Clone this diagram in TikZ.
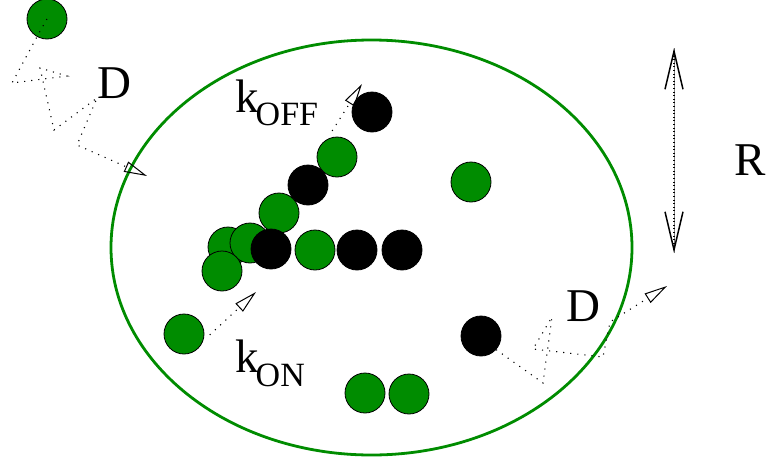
\documentclass[tikz,border=0pt]{standalone}
\usepackage{fontspec}
\setmainfont{Liberation Serif}
\usepackage{tikz}
\usetikzlibrary{arrows.meta}
\definecolor{molgreen}{RGB}{0,140,0}
\newcommand{\bigfont}{\fontsize{47}{47}\selectfont}
\newcommand{\subfont}{\fontsize{34}{34}\selectfont}
\tikzset{
    mol/.style={draw=black, line width=0.8pt, circle, minimum size=40pt, inner sep=0pt},
    gmol/.style={mol, fill=molgreen},
    bmol/.style={mol, fill=black},
    cell/.style={draw=molgreen, line width=2.8pt},
    walk/.style={line width=1.1pt, dash pattern=on 1.1pt off 6pt,
        -{Triangle[open, length=23pt, width=11pt, line width=1pt]}},
    ruler/.style={line width=1.3pt, dash pattern=on 1pt off 2.6pt},
    rhead/.style={{Straight Barb[length=38pt, width=18pt, line width=1.5pt]}-{Straight Barb[length=38pt, width=18pt, line width=1.5pt]}},
    lbl/.style={font=\bigfont, inner sep=0pt}
}
\begin{document}
\begin{tikzpicture}[x=1pt, y=-1pt]
                \useasboundingbox (0,0) rectangle (768,466);

                % the cell
                \draw[cell] (371.5,247.5) ellipse [x radius=260.5, y radius=207.5];

                % molecules
                \node[gmol] (g0) at (47,19) {};
                \node[bmol] (b1) at (372,112) {};
                \node[gmol] (g1) at (337,157) {};
                \node[bmol] (b2) at (308,185) {};
                \node[gmol] (g2) at (279,213) {};
                \node[gmol] (g3) at (228,247) {};
                \node[gmol] (g4) at (250,243) {};
                \node[gmol] (g5) at (222,271) {};
                \node[bmol] (b3) at (271,249) {};
                \node[gmol] (g6) at (315,250) {};
                \node[bmol] (b4) at (357,250) {};
                \node[bmol] (b5) at (402,250) {};
                \node[gmol] (g7) at (471,182) {};
                \node[gmol] (gon) at (184,334) {};
                \node[bmol] (bw) at (481,336) {};
                \node[gmol] (g8) at (365,393) {};
                \node[gmol] (g9) at (409,394) {};

                % diffusion in
                \coordinate (in-tip) at (147,176);
                \draw[walk] (g0.center) -- (39,33) -- (12,83) -- (67,76) -- (40,68)
                    -- (54,130) -- (97,98) -- (77,145) -- (in-tip);

                % diffusion out
                \coordinate (out-tip) at (667,286);
                \draw[walk] (bw.-42) -- (543,383) -- (552,317) -- (533,349)
                    -- (603,357) -- (610,322) -- (out-tip);

                % binding / unbinding
                \coordinate (on-tip) at (256,292);
                \coordinate (off-tip) at (362,84);
                \draw[walk, shorten <=9pt] (gon.-20) -- (on-tip);
                \draw[walk, shorten <=10pt] (g1.120) -- (off-tip);

                % radius
                \coordinate (r-top) at (674,48);
                \coordinate (r-bot) at (674,253);
                \draw[line width=0.4pt, gray] (r-top) -- (r-bot);
                \draw[ruler, rhead] (r-top) -- (r-bot);

                % labels
                \node[lbl] (d-in) at (114,83) {D};
                \node[lbl] (d-out) at (583,306) {D};
                \node[lbl] (r) at (750,160) {R};
                \node[lbl, anchor=base west] (koff) at (235,112)
                    {k\hspace{-3pt}\raisebox{-13pt}{\subfont OFF}};
                \node[lbl, anchor=base west] (kon) at (235,372)
                    {k\hspace{-3pt}\raisebox{-14pt}{\subfont ON}};
            \end{tikzpicture}
\end{document}
